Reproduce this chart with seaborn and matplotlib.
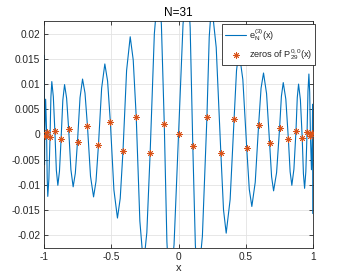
import matplotlib
matplotlib.use("Agg")
import matplotlib.pyplot as plt
import seaborn as sns
import pandas as pd

# Curve points read/ (extrema, shoulders, on-curve points)
curve_x = [-1.0, -0.9985, -0.9968, -0.990, -0.9827,
           -0.9784, -0.974, -0.9657, -0.9574,
           -0.9507, -0.944, -0.9327, -0.9213,
           -0.9102, -0.899, -0.8869, -0.8748,
           -0.8619, -0.849, -0.8337, -0.8183,
           -0.8017, -0.785, -0.7688, -0.7526,
           -0.7338, -0.715, -0.6967, -0.6783,
           -0.6557, -0.633, -0.6148, -0.5965,
           -0.5728, -0.549, -0.5285, -0.508,
           -0.4815, -0.455, -0.4344, -0.4138,
           -0.3869, -0.36, -0.3376, -0.3152,
           -0.2881, -0.261, -0.2362, -0.2114,
           -0.1802, -0.149, -0.1277, -0.1063,
           -0.0867, -0.067, -0.0335, 0.0,
           0.0335, 0.067, 0.0867, 0.1063,
           0.1252, 0.144, 0.1777, 0.2114,
           0.2287, 0.246, 0.2806, 0.3152,
           0.3351, 0.355, 0.3844, 0.4138,
           0.4319, 0.45, 0.479, 0.508,
           0.527, 0.546, 0.5713, 0.5965,
           0.6148, 0.633, 0.6557, 0.6783,
           0.6932, 0.708, 0.7303, 0.7526,
           0.7663, 0.78, 0.7992, 0.8183,
           0.8312, 0.844, 0.8594, 0.8748,
           0.8844, 0.894, 0.9077, 0.9213,
           0.9302, 0.939, 0.9482, 0.9574,
           0.9642, 0.971, 0.9769, 0.9827,
           0.990, 0.9968, 0.9985, 1.0]
curve_y = [0.0157, -0.006, -0.0004, 0.007, 0.0004,
           -0.0086, -0.0123, -0.0088, -0.0006,
           0.0074, 0.0105, 0.0075, 0.0007,
           -0.0071, -0.0101, -0.0073, -0.0009,
           0.0068, 0.0099, 0.0072, 0.0010,
           -0.0070, -0.0104, -0.0077, -0.0014,
           0.0073, 0.0110, 0.0082, 0.0016,
           -0.0083, -0.0124, -0.0093, -0.0021,
           0.0092, 0.0140, 0.0106, 0.0025,
           -0.0110, -0.0166, -0.0127, -0.0033,
           0.0127, 0.0194, 0.0148, 0.0035,
           -0.0172, -0.026, -0.0195, -0.0036,
           0.0200, 0.030, 0.0218, 0.0021,
           -0.0213, -0.031, -0.0219, 0.0,
           0.0219, 0.031, 0.0212, -0.0023,
           -0.0219, -0.030, -0.0202, 0.0034,
           0.0194, 0.026, 0.0173, -0.0037,
           -0.0150, -0.0196, -0.0129, 0.0031,
           0.0127, 0.0166, 0.0109, -0.0027,
           -0.0109, -0.0143, -0.0095, 0.0019,
           0.0092, 0.0122, 0.0081, -0.0017,
           -0.0084, -0.0112, -0.0076, 0.0012,
           0.0076, 0.0103, 0.0070, -0.0010,
           -0.0074, -0.0101, -0.0069, 0.0007,
           0.0073, 0.0100, 0.0069, -0.0007,
           -0.0078, -0.0107, -0.0074, 0.0005,
           0.0086, 0.0120, 0.0084, -0.0004,
           -0.007, 0.0003, 0.006, -0.0157]

# Zeros of P_29 and the curve values there
zeros_x = [-0.9968, -0.9827, -0.9574, -0.9213, -0.8748, -0.8183, -0.7526, -0.6783, -0.5965, -0.5080,
           -0.4138, -0.3152, -0.2114, -0.1063, 0.0, 0.1063, 0.2114, 0.3152, 0.4138, 0.5080,
           0.5965, 0.6783, 0.7526, 0.8183, 0.8748, 0.9213, 0.9574, 0.9827, 0.9968]
zeros_y = [-0.0004, 0.0004, -0.0006, 0.0007, -0.0009, 0.0010, -0.0014, 0.0016, -0.0021, 0.0025,
           -0.0033, 0.0035, -0.0036, 0.0021, 0.0, -0.0023, 0.0034, -0.0037, 0.0031, -0.0027,
           0.0019, -0.0017, 0.0012, -0.0010, 0.0007, -0.0007, 0.0005, -0.0004, 0.0003]

x_ticks = [-1, -0.5, 0, 0.5, 1]
x_tick_labels = ["-1", "-0.5", "0", "0.5", "1"]
y_ticks = [-0.02, -0.015, -0.01, -0.005, 0, 0.005, 0.01, 0.015, 0.02]
y_tick_labels = ["-0.02", "-0.015", "-0.01", "-0.005", "0", "0.005", "0.01", "0.015", "0.02"]

sns.set_theme(style="ticks")
plt.rcParams['font.family'] = ['Liberation Sans', 'DejaVu Sans']
plt.rcParams['mathtext.fontset'] = 'custom'
plt.rcParams['mathtext.rm'] = 'Liberation Sans'
plt.rcParams['mathtext.it'] = 'Liberation Sans:italic'

dark = '#262626'
fig = plt.figure(figsize=(3.46, 2.79), dpi=100)
ax = fig.add_axes([0.128, 0.112, 0.776, 0.814])

curve = pd.DataFrame({"x": curve_x, "y": curve_y})
zeros = pd.DataFrame({"x": zeros_x, "y": zeros_y})

sns.lineplot(data=curve, x="x", y="y", ax=ax, color='#0072BD', lw=0.8, sort=False,
             label=r'e$_\mathrm{N}^{(3)}$(x)')
sns.scatterplot(data=zeros, x="x", y="y", ax=ax, marker=(8, 2, 0), s=18,
                color='#D95319', edgecolor='#D95319', linewidth=0.6, zorder=3,
                label=r'zeros of P$_{29}^{0,0}$(x)')

ax.set_xlim(-1, 1)
ax.set_ylim(-0.0225, 0.0226)
ax.set_xticks(x_ticks)
ax.set_xticklabels(x_tick_labels)
ax.set_yticks(y_ticks)
ax.set_yticklabels(y_tick_labels)
ax.grid(True, color='#e3e3e3', lw=0.6)
ax.set_axisbelow(True)
for sp in ax.spines.values():
    sp.set_color(dark)
    sp.set_linewidth(0.6)
ax.tick_params(direction='in', length=3, width=0.6, top=True, right=True,
               labelsize=7.3, colors=dark, pad=3)
ax.set_xlabel('x', fontsize=8, color=dark, labelpad=1)
ax.set_ylabel('')
ax.set_title('N=31', fontsize=8.5, color='black', pad=3)

leg = ax.legend(loc='upper right', bbox_to_anchor=(1.009, 0.984), fontsize=6.6,
                frameon=True, fancybox=False, framealpha=1, edgecolor=dark,
                borderaxespad=0, handlelength=2.3, handletextpad=0.25,
                borderpad=0.35, labelspacing=0.45)
leg.get_frame().set_linewidth(0.6)

fig.savefig('out.png', dpi=100)
